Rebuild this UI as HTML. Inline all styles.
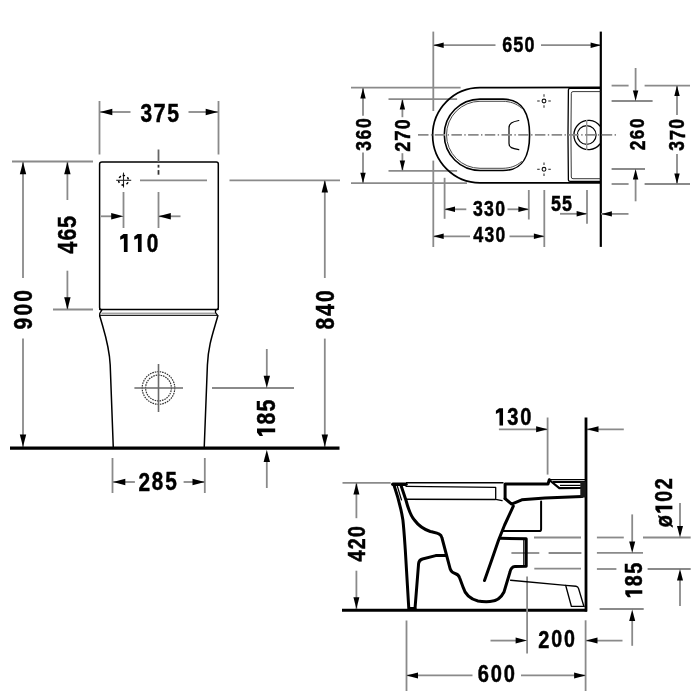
<!DOCTYPE html>
<html><head><meta charset="utf-8"><style>
html,body{margin:0;padding:0;background:#fff;width:700px;height:700px;overflow:hidden}
svg{display:block;will-change:transform}
text{font-family:"Liberation Sans",sans-serif;font-weight:bold;fill:#000}
</style></head><body>
<svg width="700" height="700" viewBox="0 0 700 700">
<rect width="700" height="700" fill="#fff"/>
<line x1="99.5" y1="101" x2="99.5" y2="154.5" stroke="#8a8a8a" stroke-width="1.8" />
<line x1="218.5" y1="101" x2="218.5" y2="154.5" stroke="#8a8a8a" stroke-width="1.8" />
<line x1="100" y1="112" x2="130.5" y2="112" stroke="#8a8a8a" stroke-width="1.8" />
<polygon points="100.00,112.00 112.30,108.80 112.30,115.20" fill="#000"/>
<line x1="188.5" y1="112" x2="218" y2="112" stroke="#8a8a8a" stroke-width="1.8" />
<polygon points="218.00,112.00 205.70,108.80 205.70,115.20" fill="#000"/>
<g transform="translate(140.90,103.90)"><text transform="translate(-0.42,17.85) scale(0.20904,0.25493)" font-size="100" stroke="#000" stroke-width="1.94">3</text><text transform="translate(12.71,18.37) scale(0.21826,0.26618)" font-size="100" stroke="#000" stroke-width="1.86">7</text><text transform="translate(26.26,17.84) scale(0.21203,0.25857)" font-size="100" stroke="#000" stroke-width="1.91">5</text></g>
<path d="M 102 162 L 216.3 162 Q 218.3 162 218.3 164 L 218.3 307.4 Q 218.3 309.4 216.3 309.4 L 101.6 309.4 Q 99.6 309.4 99.6 307.4 L 99.6 164 Q 99.6 162 102 162 Z" fill="none" stroke="#000" stroke-width="1.5" stroke-linejoin="round" stroke-linecap="round" />
<line x1="12" y1="161.5" x2="93" y2="161.5" stroke="#8a8a8a" stroke-width="1.8" />
<line x1="53" y1="309.5" x2="93" y2="309.5" stroke="#8a8a8a" stroke-width="1.8" />
<line x1="23" y1="162" x2="23" y2="278" stroke="#8a8a8a" stroke-width="1.8" />
<polygon points="23.00,162.00 19.80,174.30 26.20,174.30" fill="#000"/>
<line x1="23" y1="338.6" x2="23" y2="447.5" stroke="#8a8a8a" stroke-width="1.8" />
<polygon points="23.00,446.80 19.80,434.50 26.20,434.50" fill="#000"/>
<g transform="translate(13.70,328.60) rotate(-90)"><text transform="translate(-0.84,17.94) scale(0.21020,0.25634)" font-size="100" stroke="#000" stroke-width="1.93">9</text><text transform="translate(13.02,17.94) scale(0.21020,0.25634)" font-size="100" stroke="#000" stroke-width="1.93">0</text><text transform="translate(26.78,17.94) scale(0.21020,0.25634)" font-size="100" stroke="#000" stroke-width="1.93">0</text></g>
<line x1="67.4" y1="162" x2="67.4" y2="200" stroke="#8a8a8a" stroke-width="1.8" />
<polygon points="67.40,162.00 64.20,174.30 70.60,174.30" fill="#000"/>
<line x1="67.4" y1="270.7" x2="67.4" y2="309.5" stroke="#8a8a8a" stroke-width="1.8" />
<polygon points="67.40,309.50 64.20,297.20 70.60,297.20" fill="#000"/>
<g transform="translate(58.10,253.20) rotate(-90)"><text transform="translate(-0.44,18.50) scale(0.21986,0.26812)" font-size="100" stroke="#000" stroke-width="1.84">4</text><text transform="translate(12.62,18.24) scale(0.21366,0.26056)" font-size="100" stroke="#000" stroke-width="1.90">6</text><text transform="translate(25.31,18.24) scale(0.21671,0.26429)" font-size="100" stroke="#000" stroke-width="1.87">5</text></g>
<line x1="116.2" y1="180.3" x2="131.2" y2="180.3" stroke="#222" stroke-width="1.1" />
<line x1="123.5" y1="172.6" x2="123.5" y2="187.5" stroke="#222" stroke-width="1.1" />
<circle cx="123.5" cy="180.3" r="4.9" fill="none" stroke="#000" stroke-width="1.5" stroke-dasharray="2.4 2.75" transform="rotate(-100 123.5 180.3)"/>
<line x1="140" y1="180.3" x2="207" y2="180.3" stroke="#8a8a8a" stroke-width="1.8" />
<line x1="229.5" y1="180.3" x2="340" y2="180.3" stroke="#8a8a8a" stroke-width="1.8" />
<line x1="158.5" y1="149.5" x2="158.5" y2="162" stroke="#666" stroke-width="1.8" />
<line x1="158.5" y1="164.8" x2="158.5" y2="167.6" stroke="#333" stroke-width="1.8" />
<line x1="158.5" y1="170.1" x2="158.5" y2="174.7" stroke="#333" stroke-width="1.8" />
<line x1="123.5" y1="192" x2="123.5" y2="228" stroke="#8a8a8a" stroke-width="1.8" />
<line x1="158.5" y1="192" x2="158.5" y2="228" stroke="#8a8a8a" stroke-width="1.8" />
<line x1="101" y1="216.3" x2="113" y2="216.3" stroke="#8a8a8a" stroke-width="1.8" />
<polygon points="123.50,216.30 111.20,213.10 111.20,219.50" fill="#000"/>
<line x1="158.5" y1="216.3" x2="180.5" y2="216.3" stroke="#8a8a8a" stroke-width="1.8" />
<polygon points="158.50,216.30 170.80,213.10 170.80,219.50" fill="#000"/>
<g transform="translate(120.20,233.90)"><path d="M 7.38 0 L 7.38 18.00 L 3.69 18.00 L 3.69 4.23 L 0.00 5.94 L 0.00 2.70 L 3.33 0 Z" fill="#000"/><path d="M 21.42 0 L 21.42 18.00 L 17.73 18.00 L 17.73 4.23 L 14.04 5.94 L 14.04 2.70 L 17.37 0 Z" fill="#000"/><text transform="translate(26.50,17.75) scale(0.20789,0.25352)" font-size="100" stroke="#000" stroke-width="1.95">0</text></g>
<line x1="324.8" y1="180.3" x2="324.8" y2="278" stroke="#8a8a8a" stroke-width="1.8" />
<polygon points="324.80,180.30 321.60,192.60 328.00,192.60" fill="#000"/>
<line x1="324.8" y1="338.6" x2="324.8" y2="447.5" stroke="#8a8a8a" stroke-width="1.8" />
<polygon points="324.80,446.80 321.60,434.50 328.00,434.50" fill="#000"/>
<g transform="translate(315.70,328.80) rotate(-90)"><text transform="translate(-0.63,17.94) scale(0.21020,0.25634)" font-size="100" stroke="#000" stroke-width="1.93">8</text><text transform="translate(12.74,18.20) scale(0.21629,0.26377)" font-size="100" stroke="#000" stroke-width="1.87">4</text><text transform="translate(26.78,17.94) scale(0.21020,0.25634)" font-size="100" stroke="#000" stroke-width="1.93">0</text></g>
<path d="M 99.6 309.4 L 101.8 310.2 L 99.8 313.3 L 99.6 316" fill="none" stroke="#000" stroke-width="1.3" stroke-linejoin="round" stroke-linecap="round" />
<path d="M 218.3 309.4 L 215.5 310 L 215.5 312.6 L 217.8 315.6" fill="none" stroke="#000" stroke-width="1.3" stroke-linejoin="round" stroke-linecap="round" />
<line x1="101.5" y1="313.2" x2="215" y2="313.2" stroke="#777" stroke-width="1.0" />
<line x1="100" y1="315.4" x2="217.5" y2="315.4" stroke="#222" stroke-width="1.1" />
<path d="M 99.8 316 C 104.5 333, 109.3 345, 110.2 365 L 113.3 448" fill="none" stroke="#000" stroke-width="1.5" stroke-linejoin="round" stroke-linecap="round" />
<path d="M 217.8 316 C 213 333, 208.3 345, 207.4 365 L 204.2 448" fill="none" stroke="#000" stroke-width="1.5" stroke-linejoin="round" stroke-linecap="round" />
<circle cx="158.5" cy="388" r="12.9" fill="none" stroke="#333" stroke-width="1.2" stroke-dasharray="1.6 0.9"/>
<circle cx="158.5" cy="388" r="16.3" fill="none" stroke="#333" stroke-width="1.2" stroke-dasharray="1.6 0.9"/>
<line x1="134.4" y1="388" x2="183" y2="388" stroke="#6a6a6a" stroke-width="1.6" />
<line x1="158.5" y1="364" x2="158.5" y2="412" stroke="#6a6a6a" stroke-width="1.6" />
<line x1="212" y1="388" x2="294" y2="388" stroke="#8a8a8a" stroke-width="1.8" />
<line x1="266.8" y1="349" x2="266.8" y2="380" stroke="#8a8a8a" stroke-width="1.8" />
<polygon points="266.80,388.00 263.60,375.70 270.00,375.70" fill="#000"/>
<line x1="266.8" y1="458" x2="266.8" y2="488" stroke="#8a8a8a" stroke-width="1.8" />
<polygon points="266.80,449.80 263.60,462.10 270.00,462.10" fill="#000"/>
<g transform="translate(257.00,435.90) rotate(-90)"><path d="M 7.46 0 L 7.46 18.20 L 3.73 18.20 L 3.73 4.28 L 0.00 6.01 L 0.00 2.73 L 3.37 0 Z" fill="#000"/><text transform="translate(11.44,17.94) scale(0.21020,0.25634)" font-size="100" stroke="#000" stroke-width="1.93">8</text><text transform="translate(24.50,17.94) scale(0.21320,0.26000)" font-size="100" stroke="#000" stroke-width="1.90">5</text></g>
<line x1="10" y1="448.1" x2="339.5" y2="448.1" stroke="#000" stroke-width="3.1" />
<line x1="112.5" y1="458" x2="112.5" y2="493" stroke="#8a8a8a" stroke-width="1.8" />
<line x1="204.8" y1="458" x2="204.8" y2="493" stroke="#8a8a8a" stroke-width="1.8" />
<line x1="113" y1="482" x2="134.9" y2="482" stroke="#8a8a8a" stroke-width="1.8" />
<polygon points="113.00,482.00 125.30,478.80 125.30,485.20" fill="#000"/>
<line x1="183.6" y1="482" x2="204.8" y2="482" stroke="#8a8a8a" stroke-width="1.8" />
<polygon points="204.80,482.00 192.50,478.80 192.50,485.20" fill="#000"/>
<g transform="translate(139.10,472.80)"><text transform="translate(-0.63,17.80) scale(0.20851,0.25429)" font-size="100" stroke="#000" stroke-width="1.94">2</text><text transform="translate(12.74,17.55) scale(0.20558,0.25070)" font-size="100" stroke="#000" stroke-width="1.97">8</text><text transform="translate(26.05,17.55) scale(0.20851,0.25429)" font-size="100" stroke="#000" stroke-width="1.94">5</text></g>
<line x1="433.3" y1="31.6" x2="433.3" y2="111" stroke="#8a8a8a" stroke-width="1.8" />
<line x1="433.3" y1="160.6" x2="433.3" y2="247" stroke="#8a8a8a" stroke-width="1.8" />
<line x1="433.3" y1="45.2" x2="495.5" y2="45.2" stroke="#8a8a8a" stroke-width="1.8" />
<polygon points="433.30,45.20 443.70,42.50 443.70,47.90" fill="#000"/>
<line x1="541" y1="45.2" x2="601" y2="45.2" stroke="#8a8a8a" stroke-width="1.8" />
<polygon points="601.00,45.20 590.60,42.50 590.60,47.90" fill="#000"/>
<g transform="translate(503.00,36.90)"><text transform="translate(-0.72,15.28) scale(0.17901,0.21831)" font-size="100" stroke="#000" stroke-width="2.27">6</text><text transform="translate(10.26,15.28) scale(0.18157,0.22143)" font-size="100" stroke="#000" stroke-width="2.23">5</text><text transform="translate(21.47,15.28) scale(0.17901,0.21831)" font-size="100" stroke="#000" stroke-width="2.27">0</text></g>
<line x1="600.8" y1="31.6" x2="600.8" y2="246.9" stroke="#000" stroke-width="2.2" />
<line x1="351" y1="87.7" x2="460.6" y2="87.7" stroke="#8a8a8a" stroke-width="1.8" />
<line x1="388.5" y1="99.2" x2="457.1" y2="99.2" stroke="#8a8a8a" stroke-width="1.8" />
<line x1="388.5" y1="170.8" x2="457.1" y2="170.8" stroke="#8a8a8a" stroke-width="1.8" />
<line x1="351" y1="183.2" x2="467" y2="183.2" stroke="#8a8a8a" stroke-width="1.8" />
<line x1="363" y1="88" x2="363" y2="115.7" stroke="#8a8a8a" stroke-width="1.8" />
<polygon points="363.00,88.00 360.30,98.40 365.70,98.40" fill="#000"/>
<line x1="363" y1="152.5" x2="363" y2="183.2" stroke="#8a8a8a" stroke-width="1.8" />
<polygon points="363.00,183.20 360.30,172.80 365.70,172.80" fill="#000"/>
<g transform="translate(355.70,150.30) rotate(-90)"><text transform="translate(-0.35,14.89) scale(0.17439,0.21268)" font-size="100" stroke="#000" stroke-width="2.33">3</text><text transform="translate(10.80,14.89) scale(0.17439,0.21268)" font-size="100" stroke="#000" stroke-width="2.33">6</text><text transform="translate(22.21,14.89) scale(0.17439,0.21268)" font-size="100" stroke="#000" stroke-width="2.33">0</text></g>
<line x1="402.4" y1="99.2" x2="402.4" y2="117.2" stroke="#8a8a8a" stroke-width="1.8" />
<polygon points="402.40,99.20 399.70,109.60 405.10,109.60" fill="#000"/>
<line x1="402.4" y1="153.2" x2="402.4" y2="170.8" stroke="#8a8a8a" stroke-width="1.8" />
<polygon points="402.40,170.80 399.70,160.40 405.10,160.40" fill="#000"/>
<g transform="translate(394.50,151.30) rotate(-90)"><text transform="translate(-0.54,15.40) scale(0.18040,0.22000)" font-size="100" stroke="#000" stroke-width="2.25">2</text><text transform="translate(10.61,15.63) scale(0.18571,0.22647)" font-size="100" stroke="#000" stroke-width="2.18">7</text><text transform="translate(22.13,15.18) scale(0.17786,0.21690)" font-size="100" stroke="#000" stroke-width="2.28">0</text></g>
<path d="M 600 87.3 L 480 87.6 A 47.3 47.5 0 0 0 480 182.8 L 600 182.8" fill="none" stroke="#000" stroke-width="1.7" stroke-linejoin="round" stroke-linecap="round" />
<path d="M 480 99.1 L 503 99.1 C 522 99.1, 529.6 112, 529.6 134.8 C 529.6 158, 522 170.5, 503 170.5 L 480 170.5 A 35.7 35.7 0 0 1 480 99.1 Z" fill="none" stroke="#000" stroke-width="1.6" stroke-linejoin="round" stroke-linecap="round" />
<path d="M 521.5 108 C 516 103.2, 510 101.5, 503 101.3 L 480 101.3 A 33.5 33.5 0 0 0 480 168.3 L 503 168.3 C 510 168.1, 516 166.4, 521.5 161.6" fill="none" stroke="#333" stroke-width="0.9" stroke-linejoin="round" stroke-linecap="round" />
<path d="M 518.8 120.5 C 512 121.8, 509 123.5, 509 128 L 509 143.5 C 509 147.5, 512 148.5, 518.8 149.6" fill="none" stroke="#000" stroke-width="1.2" stroke-linejoin="round" stroke-linecap="round" />
<circle cx="544" cy="101" r="1.9" fill="none" stroke="#111" stroke-width="1.1"/>
<line x1="544" y1="94.2" x2="544" y2="96.7" stroke="#333" stroke-width="1.1" />
<line x1="544" y1="105.3" x2="544" y2="107.8" stroke="#333" stroke-width="1.1" />
<line x1="537.2" y1="101" x2="539.7" y2="101" stroke="#333" stroke-width="1.1" />
<line x1="548.3" y1="101" x2="550.8" y2="101" stroke="#333" stroke-width="1.1" />
<circle cx="544" cy="169.3" r="1.9" fill="none" stroke="#111" stroke-width="1.1"/>
<line x1="544" y1="162.5" x2="544" y2="165.0" stroke="#333" stroke-width="1.1" />
<line x1="544" y1="173.60000000000002" x2="544" y2="176.10000000000002" stroke="#333" stroke-width="1.1" />
<line x1="537.2" y1="169.3" x2="539.7" y2="169.3" stroke="#333" stroke-width="1.1" />
<line x1="548.3" y1="169.3" x2="550.8" y2="169.3" stroke="#333" stroke-width="1.1" />
<path d="M 600 88.4 L 570 88.4 Q 568.4 88.4 568.4 90 Q 567.6 135 568.4 180 Q 568.4 181.4 570 181.4 L 600 181.4" fill="none" stroke="#000" stroke-width="1.3" stroke-linejoin="round" stroke-linecap="round" />
<path d="M 600 91.6 L 573 91.6 Q 571.3 91.6 571.3 93.5 Q 570.6 135 571.3 177 Q 571.3 178.7 573 178.7 L 600 178.7" fill="none" stroke="#222" stroke-width="0.9" stroke-linejoin="round" stroke-linecap="round" />
<path d="M 600 126 A 14.6 14.6 0 1 0 600 144" fill="none" stroke="#000" stroke-width="1.3" stroke-linejoin="round" stroke-linecap="round" />
<circle cx="586.7" cy="135" r="9.4" fill="none" stroke="#000" stroke-width="1.2"/>
<line x1="586.7" y1="120" x2="586.7" y2="150" stroke="#999" stroke-width="1.4" />
<line x1="418" y1="134.8" x2="618" y2="134.8" stroke="#8a8a8a" stroke-width="1.8" stroke-dasharray="10.5 2.4 1.4 2.4"/>
<line x1="611.6" y1="85.6" x2="628.6" y2="85.6" stroke="#8a8a8a" stroke-width="1.8" />
<line x1="644.6" y1="85.6" x2="690" y2="85.6" stroke="#8a8a8a" stroke-width="1.8" />
<line x1="611.6" y1="101" x2="652.6" y2="101" stroke="#8a8a8a" stroke-width="1.8" />
<line x1="611.6" y1="169" x2="645" y2="169" stroke="#8a8a8a" stroke-width="1.8" />
<line x1="611.6" y1="184" x2="628.6" y2="184" stroke="#8a8a8a" stroke-width="1.8" />
<line x1="644.6" y1="184" x2="690" y2="184" stroke="#8a8a8a" stroke-width="1.8" />
<line x1="635.6" y1="68" x2="635.6" y2="92" stroke="#8a8a8a" stroke-width="1.8" />
<polygon points="635.60,101.00 632.90,90.60 638.30,90.60" fill="#000"/>
<line x1="635.6" y1="178" x2="635.6" y2="201.3" stroke="#8a8a8a" stroke-width="1.8" />
<polygon points="635.60,169.00 632.90,179.40 638.30,179.40" fill="#000"/>
<g transform="translate(629.70,149.80) rotate(-90)"><text transform="translate(-0.52,14.80) scale(0.17337,0.21143)" font-size="100" stroke="#000" stroke-width="2.34">2</text><text transform="translate(10.63,14.59) scale(0.17093,0.20845)" font-size="100" stroke="#000" stroke-width="2.37">6</text><text transform="translate(21.88,14.59) scale(0.17093,0.20845)" font-size="100" stroke="#000" stroke-width="2.37">0</text></g>
<line x1="677" y1="86" x2="677" y2="115" stroke="#8a8a8a" stroke-width="1.8" />
<polygon points="677.00,85.60 674.30,96.00 679.70,96.00" fill="#000"/>
<line x1="677" y1="154" x2="677" y2="184" stroke="#8a8a8a" stroke-width="1.8" />
<polygon points="677.00,184.00 674.30,173.60 679.70,173.60" fill="#000"/>
<g transform="translate(669.30,150.30) rotate(-90)"><text transform="translate(-0.35,14.99) scale(0.17555,0.21408)" font-size="100" stroke="#000" stroke-width="2.31">3</text><text transform="translate(10.39,15.42) scale(0.18329,0.22353)" font-size="100" stroke="#000" stroke-width="2.21">7</text><text transform="translate(21.65,14.99) scale(0.17555,0.21408)" font-size="100" stroke="#000" stroke-width="2.31">0</text></g>
<line x1="444.6" y1="177.8" x2="444.6" y2="218.8" stroke="#8a8a8a" stroke-width="1.8" />
<line x1="528.8" y1="190" x2="528.8" y2="219.5" stroke="#8a8a8a" stroke-width="1.8" />
<line x1="544.3" y1="190" x2="544.3" y2="247" stroke="#8a8a8a" stroke-width="1.8" />
<line x1="587" y1="190" x2="587" y2="223.8" stroke="#8a8a8a" stroke-width="1.8" />
<line x1="445" y1="209.3" x2="466.3" y2="209.3" stroke="#8a8a8a" stroke-width="1.8" />
<polygon points="444.60,209.30 455.00,206.60 455.00,212.00" fill="#000"/>
<line x1="507.5" y1="209.3" x2="528.8" y2="209.3" stroke="#8a8a8a" stroke-width="1.8" />
<polygon points="528.80,209.30 518.40,206.60 518.40,212.00" fill="#000"/>
<g transform="translate(473.30,200.50)"><text transform="translate(-0.35,15.08) scale(0.17670,0.21549)" font-size="100" stroke="#000" stroke-width="2.29">3</text><text transform="translate(10.81,15.08) scale(0.17670,0.21549)" font-size="100" stroke="#000" stroke-width="2.29">3</text><text transform="translate(21.89,15.08) scale(0.17670,0.21549)" font-size="100" stroke="#000" stroke-width="2.29">0</text></g>
<line x1="433.3" y1="236.3" x2="470" y2="236.3" stroke="#8a8a8a" stroke-width="1.8" />
<polygon points="433.30,236.30 443.70,233.60 443.70,239.00" fill="#000"/>
<line x1="509.5" y1="236.3" x2="544.3" y2="236.3" stroke="#8a8a8a" stroke-width="1.8" />
<polygon points="544.30,236.30 533.90,233.60 533.90,239.00" fill="#000"/>
<g transform="translate(473.70,227.10)"><text transform="translate(-0.36,15.10) scale(0.17945,0.21884)" font-size="100" stroke="#000" stroke-width="2.26">4</text><text transform="translate(10.92,14.89) scale(0.17439,0.21268)" font-size="100" stroke="#000" stroke-width="2.33">3</text><text transform="translate(21.71,14.89) scale(0.17439,0.21268)" font-size="100" stroke="#000" stroke-width="2.33">0</text></g>
<line x1="560" y1="213.8" x2="587" y2="213.8" stroke="#8a8a8a" stroke-width="1.8" />
<polygon points="587.00,213.80 576.60,211.10 576.60,216.50" fill="#000"/>
<g transform="translate(551.60,196.10)"><text transform="translate(-0.54,15.08) scale(0.17923,0.21857)" font-size="100" stroke="#000" stroke-width="2.26">5</text><text transform="translate(10.40,15.08) scale(0.17923,0.21857)" font-size="100" stroke="#000" stroke-width="2.26">5</text></g>
<line x1="601" y1="213.9" x2="628.5" y2="213.9" stroke="#8a8a8a" stroke-width="1.8" />
<polygon points="601.50,213.90 611.90,211.20 611.90,216.60" fill="#000"/>
<line x1="547.6" y1="417.5" x2="547.6" y2="474.6" stroke="#8a8a8a" stroke-width="1.8" />
<line x1="498.9" y1="429.3" x2="547.6" y2="429.3" stroke="#8a8a8a" stroke-width="1.8" />
<polygon points="547.60,429.30 536.10,426.30 536.10,432.30" fill="#000"/>
<g transform="translate(495.90,408.20)"><path d="M 7.13 0 L 7.13 17.40 L 3.57 17.40 L 3.57 4.09 L 0.00 5.74 L 0.00 2.61 L 3.22 0 Z" fill="#000"/><text transform="translate(11.46,17.15) scale(0.20096,0.24507)" font-size="100" stroke="#000" stroke-width="2.02">3</text><text transform="translate(24.25,17.15) scale(0.20096,0.24507)" font-size="100" stroke="#000" stroke-width="2.02">0</text></g>
<line x1="586" y1="429.3" x2="623.8" y2="429.3" stroke="#8a8a8a" stroke-width="1.8" />
<polygon points="587.00,429.30 598.50,426.30 598.50,432.30" fill="#000"/>
<line x1="586" y1="417.5" x2="586" y2="611.5" stroke="#000" stroke-width="2.8" />
<line x1="342.5" y1="482.9" x2="390.7" y2="482.9" stroke="#8a8a8a" stroke-width="1.8" />
<line x1="356.4" y1="483" x2="356.4" y2="518.2" stroke="#8a8a8a" stroke-width="1.8" />
<polygon points="356.40,483.00 353.40,494.50 359.40,494.50" fill="#000"/>
<line x1="356.4" y1="570.7" x2="356.4" y2="609" stroke="#8a8a8a" stroke-width="1.8" />
<polygon points="356.40,608.80 353.40,597.30 359.40,597.30" fill="#000"/>
<g transform="translate(348.10,561.20) rotate(-90)"><text transform="translate(-0.40,16.80) scale(0.19965,0.24348)" font-size="100" stroke="#000" stroke-width="2.03">4</text><text transform="translate(11.95,16.80) scale(0.19680,0.24000)" font-size="100" stroke="#000" stroke-width="2.06">2</text><text transform="translate(24.10,16.56) scale(0.19403,0.23662)" font-size="100" stroke="#000" stroke-width="2.09">0</text></g>
<line x1="342" y1="610.2" x2="587" y2="610.2" stroke="#000" stroke-width="3.1" />
<line x1="534" y1="537.5" x2="581" y2="537.5" stroke="#8a8a8a" stroke-width="1.8" />
<line x1="596.9" y1="537.5" x2="623.8" y2="537.5" stroke="#8a8a8a" stroke-width="1.8" />
<line x1="643" y1="537.5" x2="690.7" y2="537.5" stroke="#8a8a8a" stroke-width="1.8" />
<line x1="511.4" y1="553" x2="539.3" y2="553" stroke="#8a8a8a" stroke-width="1.8" />
<line x1="548.6" y1="553" x2="581.4" y2="553" stroke="#8a8a8a" stroke-width="1.8" />
<line x1="596.9" y1="552.9" x2="643" y2="552.9" stroke="#8a8a8a" stroke-width="1.8" />
<line x1="534.3" y1="568.6" x2="581" y2="568.6" stroke="#8a8a8a" stroke-width="1.8" />
<line x1="596.9" y1="569" x2="616.4" y2="569" stroke="#8a8a8a" stroke-width="1.8" />
<line x1="647.6" y1="569" x2="690.7" y2="569" stroke="#8a8a8a" stroke-width="1.8" />
<line x1="599.6" y1="609" x2="643.7" y2="609" stroke="#8a8a8a" stroke-width="1.8" />
<line x1="632.2" y1="514.4" x2="632.2" y2="545" stroke="#8a8a8a" stroke-width="1.8" />
<polygon points="632.20,553.00 629.20,541.50 635.20,541.50" fill="#000"/>
<line x1="632.2" y1="618" x2="632.2" y2="645.8" stroke="#8a8a8a" stroke-width="1.8" />
<polygon points="632.20,609.50 629.20,621.00 635.20,621.00" fill="#000"/>
<g transform="translate(625.30,597.20) rotate(-90)"><path d="M 6.97 0 L 6.97 17.00 L 3.49 17.00 L 3.49 3.99 L 0.00 5.61 L 0.00 2.55 L 3.15 0 Z" fill="#000"/><text transform="translate(10.92,16.76) scale(0.19634,0.23944)" font-size="100" stroke="#000" stroke-width="2.07">8</text><text transform="translate(23.35,16.76) scale(0.19914,0.24286)" font-size="100" stroke="#000" stroke-width="2.04">5</text></g>
<line x1="680" y1="503" x2="680" y2="530" stroke="#8a8a8a" stroke-width="1.8" />
<polygon points="680.00,537.50 677.00,526.00 683.00,526.00" fill="#000"/>
<line x1="680" y1="578" x2="680" y2="605.9" stroke="#8a8a8a" stroke-width="1.8" />
<polygon points="680.00,569.00 677.00,580.50 683.00,580.50" fill="#000"/>
<g transform="translate(655.40,527.00) rotate(-90)"><text transform="translate(-0.20,16.52) scale(0.19634,0.23944)" font-size="100" stroke="#000" stroke-width="2.07">ø</text><path d="M 21.29 0 L 21.29 17.00 L 17.81 17.00 L 17.81 3.99 L 14.32 5.61 L 14.32 2.55 L 17.47 0 Z" fill="#000"/><text transform="translate(25.28,16.76) scale(0.19634,0.23944)" font-size="100" stroke="#000" stroke-width="2.07">0</text><text transform="translate(37.64,17.00) scale(0.19914,0.24286)" font-size="100" stroke="#000" stroke-width="2.04">2</text></g>
<line x1="406.5" y1="620.5" x2="406.5" y2="691" stroke="#8a8a8a" stroke-width="1.8" />
<line x1="527.1" y1="576.4" x2="527.1" y2="653.5" stroke="#8a8a8a" stroke-width="1.8" />
<line x1="585.6" y1="620.3" x2="585.6" y2="691" stroke="#8a8a8a" stroke-width="1.8" />
<line x1="490.5" y1="640.6" x2="520" y2="640.6" stroke="#8a8a8a" stroke-width="1.8" />
<polygon points="527.10,640.60 515.60,637.60 515.60,643.60" fill="#000"/>
<line x1="586" y1="640.6" x2="622.5" y2="640.6" stroke="#8a8a8a" stroke-width="1.8" />
<polygon points="586.00,640.60 597.50,637.60 597.50,643.60" fill="#000"/>
<g transform="translate(538.90,630.70)"><text transform="translate(-0.60,17.00) scale(0.19914,0.24286)" font-size="100" stroke="#000" stroke-width="2.04">2</text><text transform="translate(12.33,16.76) scale(0.19634,0.23944)" font-size="100" stroke="#000" stroke-width="2.07">0</text><text transform="translate(25.19,16.76) scale(0.19634,0.23944)" font-size="100" stroke="#000" stroke-width="2.07">0</text></g>
<line x1="406.5" y1="675.4" x2="472.5" y2="675.4" stroke="#8a8a8a" stroke-width="1.8" />
<polygon points="406.50,675.40 418.00,672.40 418.00,678.40" fill="#000"/>
<line x1="521" y1="675.4" x2="585.6" y2="675.4" stroke="#8a8a8a" stroke-width="1.8" />
<polygon points="585.60,675.40 574.10,672.40 574.10,678.40" fill="#000"/>
<g transform="translate(478.60,665.20)"><text transform="translate(-0.80,17.15) scale(0.20096,0.24507)" font-size="100" stroke="#000" stroke-width="2.02">6</text><text transform="translate(12.27,17.15) scale(0.20096,0.24507)" font-size="100" stroke="#000" stroke-width="2.02">0</text><text transform="translate(25.25,17.15) scale(0.20096,0.24507)" font-size="100" stroke="#000" stroke-width="2.02">0</text></g>
<path d="M 392.8 484.2 L 406 484.2" fill="none" stroke="#000" stroke-width="3.4" stroke-linejoin="round" stroke-linecap="round" />
<line x1="406" y1="482.8" x2="503.5" y2="482.8" stroke="#000" stroke-width="1.4" />
<path d="M 406 486.3 L 495.7 487.4 L 495.7 499.4 L 502.1 500.7" fill="none" stroke="#000" stroke-width="1.3" stroke-linejoin="round" stroke-linecap="round" />
<line x1="405" y1="499.2" x2="495.7" y2="499.4" stroke="#000" stroke-width="1.5" />
<path d="M 393.8 484.5 C 397 494, 401 508, 402.9 520 C 404 530, 404.6 540, 405.3 550 L 408.8 608.6 L 415 608.6" fill="none" stroke="#000" stroke-width="3.0" stroke-linejoin="round" stroke-linecap="round" />
<path d="M 397.3 486 L 401.5 500" fill="none" stroke="#000" stroke-width="1.2" stroke-linejoin="round" stroke-linecap="round" />
<path d="M 401.2 486 L 405.9 500 C 408 508, 410 515, 414.4 520 C 418 525, 423 529, 430.3 531.5 C 434 532.5, 437 533, 439 534 Q 441.4 535, 442 538 L 450.3 569.3 Q 451.5 572.5, 455 573.5 Q 458.5 574.5, 459.5 577.5 L 463 587 C 465 594, 470 599, 478 601 C 482 601.8, 486 601.8, 490 601.6 C 495 601.4, 500 600, 504 592 L 510 572 Q 511 567, 515 566.6 L 526.2 566.2 L 526.2 538.7 L 499.9 538.3" fill="none" stroke="#000" stroke-width="3.0" stroke-linejoin="round" stroke-linecap="round" />
<line x1="523.8" y1="540" x2="523.8" y2="565" stroke="#000" stroke-width="1.2" />
<path d="M 415 608.6 L 418.6 563.5 Q 419 560, 422.5 559 L 435.7 555.6 L 446 555.6" fill="none" stroke="#000" stroke-width="3.0" stroke-linejoin="round" stroke-linecap="round" />
<path d="M 484.5 580.5 L 491.7 560 L 498.6 540 L 504.6 525 L 513.3 506.2" fill="none" stroke="#000" stroke-width="3.0" stroke-linejoin="round" stroke-linecap="round" />
<path d="M 505.1 498.6 L 505.1 484 L 548 484 L 549.3 479.8" fill="none" stroke="#000" stroke-width="3.0" stroke-linejoin="round" stroke-linecap="round" />
<line x1="549.3" y1="479.6" x2="586" y2="479.6" stroke="#000" stroke-width="1.3" />
<path d="M 505.1 498.6 L 511.6 504.1 L 521.8 499.8 L 545 498.1 L 582.1 496.4" fill="none" stroke="#000" stroke-width="3.0" stroke-linejoin="round" stroke-linecap="round" />
<path d="M 549.3 480 L 559.3 488.2 L 580.7 488" fill="none" stroke="#000" stroke-width="2.2" stroke-linejoin="round" stroke-linecap="round" />
<line x1="552.9" y1="481.9" x2="586" y2="481.9" stroke="#000" stroke-width="2.0" />
<line x1="560" y1="485.4" x2="580.7" y2="485.4" stroke="#000" stroke-width="1.2" />
<rect x="580.3" y="481.5" width="5.5" height="16" fill="#1a1a1a"/>
<path d="M 541.1 501.6 L 541.1 529.2 Q 541.1 531.1, 539 531.1 L 503.4 531.1" fill="none" stroke="#000" stroke-width="2.0" stroke-linejoin="round" stroke-linecap="round" />
<path d="M 510.6 580.3 L 565.7 585.4 L 576 586.3 Q 578 586.6, 578.6 588.6 L 583.9 606.4" fill="none" stroke="#000" stroke-width="1.4" stroke-linejoin="round" stroke-linecap="round" />
<path d="M 565.7 585.4 L 571.4 606.4 L 584 606.4" fill="none" stroke="#000" stroke-width="1.4" stroke-linejoin="round" stroke-linecap="round" />
</svg></body></html>
